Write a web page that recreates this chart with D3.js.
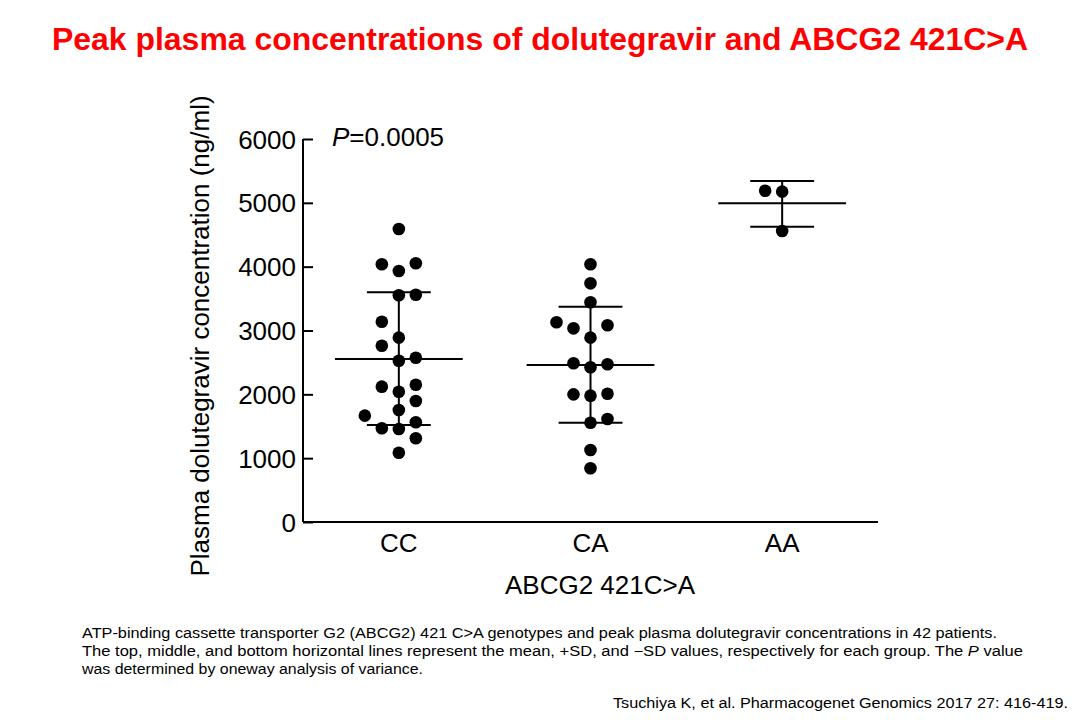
<!DOCTYPE html>
<meta charset="utf-8">
<script src="https://d3js.org/d3.v7.min.js"></script>
<style>
  body { margin: 0; background: #fff; }
  text { font-family: "Liberation Sans", Arial, sans-serif; }
</style>
<body>
<div id="chart"></div>
<script>

// genotype groups
var groups = ["CC", "CA", "AA"];

// peak plasma concentration (ng/ml) per patient
var ccValues = [4590, 4037, 4053, 3932, 3552, 3561, 3138, 2888, 2762, 2527, 2574,
                2120, 2041, 2151, 1896, 1755, 1666, 1468, 1457, 1562, 1311, 1086];
var ccLane   = [0, -1, 1, 0, 0, 1, -1, 0, -1, 0, 1, -1, 0, 1, 1, 0, -2, -1, 0, 1, 1, 0];

var caValues = [4037, 3739, 3442, 3129, 3034, 3082, 2888, 2486, 2424, 2471,
                2000, 1979, 2010, 1556, 1614, 1128, 841];
var caLane   = [0, 0, 0, -2, -1, 1, 0, -1, 0, 1, -1, 0, 1, 0, 1, 0, 0];

var aaValues = [5190, 5175, 4559];
var aaLane   = [-1, 0, 0];

// mean, +SD, -SD per group
var means  = [2554, 2460, 4993];
var plusSD = [3598, 3373, 5342];
var minusSD = [1520, 1556, 4627];

var yTicks = [0, 1000, 2000, 3000, 4000, 5000, 6000];

var W = 1080, H = 720;
var svg = d3.select("#chart").append("svg")
    .attr("width", W).attr("height", H);

var x = d3.scaleBand().domain(groups).range([303, 878]).padding(0);
var y = d3.scaleLinear().domain([0, 6000]).range([522, 139]);

// title
svg.append("text")
    .attr("x", 540).attr("y", 50)
    .attr("text-anchor", "middle")
    .attr("textLength", 976).attr("lengthAdjust", "spacingAndGlyphs")
    .style("font-size", "31px").style("font-weight", "bold")
    .style("fill", "#ff0000")
    .text("Peak plasma concentrations of dolutegravir and ABCG2 421C>A");

// y axis, ticks pointing inwards
var yAxis = svg.append("g")
    .attr("transform", "translate(303,0)")
    .call(d3.axisRight(y).tickValues(yTicks).tickSize(10).tickFormat(d3.format("d")));
yAxis.select(".domain").attr("d", "M0," + y(6000) + "V" + y(0)).attr("stroke-width", 2);
yAxis.selectAll(".tick line").attr("stroke-width", 2);
yAxis.selectAll(".tick text")
    .attr("x", -7).attr("text-anchor", "end")
    .style("font-size", "26px").attr("dy", "0.35em");

// x axis (no ticks)
var xAxis = svg.append("g")
    .attr("transform", "translate(0,522)")
    .call(d3.axisBottom(x).tickSize(0).tickPadding(12));
xAxis.select(".domain").attr("d", "M303,0H878").attr("stroke-width", 2);
xAxis.selectAll(".tick text").style("font-size", "26px").attr("dy", "0.71em");

// axis titles
svg.append("text")
    .attr("transform", "translate(209,336) rotate(-90)")
    .attr("text-anchor", "middle")
    .style("font-size", "26px")
    .text("Plasma dolutegravir concentration (ng/ml)");

svg.append("text")
    .attr("x", 600).attr("y", 594)
    .attr("text-anchor", "middle")
    .style("font-size", "26px")
    .text("ABCG2 421C>A");

// P value
var pv = svg.append("text").attr("x", 332).attr("y", 146).style("font-size", "26px");
pv.append("tspan").style("font-style", "italic").text("P");
pv.append("tspan").text("=0.0005");

// points
var laneStep = 17;
var points = [];
[[ccValues, ccLane], [caValues, caLane], [aaValues, aaLane]].forEach(function (g, i) {
  g[0].forEach(function (v, j) {
    points.push({ group: groups[i], value: v, lane: g[1][j] });
  });
});

var cx = function (g) { return x(g) + x.bandwidth() / 2; };

// mean and SD bars
var stats = groups.map(function (g, i) {
  return { group: g, mean: means[i], hi: plusSD[i], lo: minusSD[i] };
});
var bars = svg.append("g").attr("stroke", "#000").attr("stroke-width", 2);
stats.forEach(function (s) {
  var c = cx(s.group), wm = x.bandwidth() / 3, ws = x.bandwidth() / 6;
  bars.append("line").attr("x1", c).attr("x2", c).attr("y1", y(s.hi)).attr("y2", y(s.lo));
  bars.append("line").attr("x1", c - wm).attr("x2", c + wm).attr("y1", y(s.mean)).attr("y2", y(s.mean));
  bars.append("line").attr("x1", c - ws).attr("x2", c + ws).attr("y1", y(s.hi)).attr("y2", y(s.hi));
  bars.append("line").attr("x1", c - ws).attr("x2", c + ws).attr("y1", y(s.lo)).attr("y2", y(s.lo));
});

svg.append("g").selectAll("circle")
  .data(points)
  .enter().append("circle")
    .attr("cx", function (d) { return cx(d.group) + d.lane * laneStep; })
    .attr("cy", function (d) { return y(d.value); })
    .attr("r", 6.3)
    .style("fill", "#000");

// caption
var cap = svg.append("g")
    .style("font-family", "'Liberation Sans Narrow', 'Arial Narrow', 'Liberation Sans', sans-serif")
    .style("font-size", "14px");
cap.append("text").attr("x", 82).attr("y", 638)
    .attr("textLength", 915).attr("lengthAdjust", "spacingAndGlyphs")
    .text("ATP-binding cassette transporter  G2 (ABCG2) 421 C>A genotypes and peak plasma dolutegravir concentrations in 42 patients.");
var l2 = cap.append("text").attr("x", 82).attr("y", 656)
    .attr("textLength", 941).attr("lengthAdjust", "spacingAndGlyphs");
l2.append("tspan").text("The top, middle, and bottom horizontal lines represent the mean, +SD, and \u2212SD values, respectively for each group. The ");
l2.append("tspan").style("font-style", "italic").text("P");
l2.append("tspan").text(" value");
cap.append("text").attr("x", 82).attr("y", 674)
    .attr("textLength", 341).attr("lengthAdjust", "spacingAndGlyphs")
    .text("was determined by oneway  analysis  of variance.");
cap.append("text").attr("x", 1068).attr("y", 708)
    .attr("text-anchor", "end")
    .attr("textLength", 455).attr("lengthAdjust", "spacingAndGlyphs")
    .text("Tsuchiya  K, et al. Pharmacogenet Genomics 2017 27: 416-419.");

</script>
</body>
